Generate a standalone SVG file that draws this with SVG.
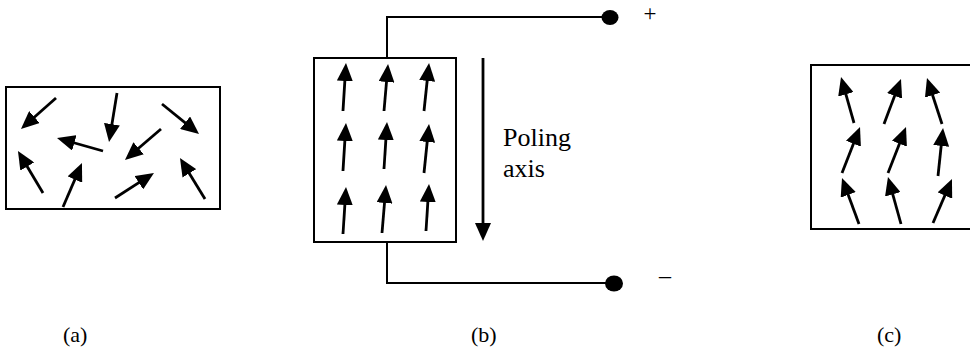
<svg xmlns="http://www.w3.org/2000/svg" width="970" height="355" viewBox="0 0 970 355">
<style>
.box{fill:#fff;stroke:#000;stroke-width:2}
.ar{stroke:#000;stroke-width:2.8;fill:none;marker-end:url(#ah)}
.wire{stroke:#000;stroke-width:2;fill:none}
.serif{font-family:'Liberation Serif','DejaVu Serif',serif;fill:#000}
</style>
<defs>
<marker id="ah" viewBox="0 0 18 16" refX="7" refY="8" markerWidth="18" markerHeight="16" markerUnits="userSpaceOnUse" orient="auto">
<path d="M0,0 L18,8 L0,16 z" fill="#000"/>
</marker>
</defs>
<rect width="970" height="355" fill="#fff"/>

<g id="panel-a">
<rect class="box" x="6" y="87" width="214" height="122"/>
<line class="ar" x1="56" y1="98" x2="29.2" y2="121.7"/>
<line class="ar" x1="117" y1="93" x2="110.8" y2="131.1"/>
<line class="ar" x1="162" y1="104" x2="190.5" y2="127.1"/>
<line class="ar" x1="103" y1="151" x2="67.6" y2="141"/>
<line class="ar" x1="161" y1="129" x2="133.3" y2="152.8"/>
<line class="ar" x1="43" y1="193" x2="23.6" y2="160.5"/>
<line class="ar" x1="63" y1="207" x2="77.6" y2="173.1"/>
<line class="ar" x1="115" y1="198" x2="144.7" y2="178.9"/>
<line class="ar" x1="205" y1="199" x2="185.7" y2="167.4"/>
</g>

<g id="panel-b">
<rect class="box" x="314" y="58" width="142" height="184"/>
<line class="ar" x1="343" y1="111" x2="345.3" y2="74"/>
<line class="ar" x1="343" y1="171" x2="345.3" y2="134"/>
<line class="ar" x1="343" y1="234" x2="345.3" y2="198"/>
<line class="ar" x1="384" y1="111" x2="387.1" y2="75"/>
<line class="ar" x1="384" y1="169" x2="386.3" y2="133"/>
<line class="ar" x1="382" y1="233" x2="385.1" y2="196"/>
<line class="ar" x1="424" y1="111" x2="427.9" y2="74"/>
<line class="ar" x1="424" y1="173" x2="427.9" y2="135"/>
<line class="ar" x1="426" y1="231" x2="428.3" y2="195"/>
</g>

<g id="terminal-plus">
<ellipse cx="610" cy="17.5" rx="8.5" ry="7.5" fill="#000"/>
<text class="serif" x="650" y="21" text-anchor="middle" font-size="23">+</text>
</g>
<g id="terminal-minus">
<ellipse cx="614" cy="283.5" rx="9" ry="8" fill="#000"/>
<text class="serif" x="665" y="283" text-anchor="middle" font-size="24">–</text>
</g>

<g id="connectors">
<polyline class="wire" points="387,58 387,17 610,17"/>
<polyline class="wire" points="387,242 387,283 614,283"/>
<line class="ar" x1="483" y1="58" x2="483" y2="230"/>
</g>

<g id="poling-label" class="serif" font-size="26">
<text x="503" y="146">Poling</text>
<text x="503" y="177">axis</text>
</g>

<g id="panel-c">
<rect class="box" x="811" y="65" width="200" height="164"/>
<line class="ar" x1="854" y1="123" x2="844" y2="87.6"/>
<line class="ar" x1="884" y1="124" x2="897.1" y2="89.3"/>
<line class="ar" x1="942" y1="124" x2="930.4" y2="88.5"/>
<line class="ar" x1="842" y1="173" x2="856" y2="137.2"/>
<line class="ar" x1="888" y1="173" x2="902" y2="137.2"/>
<line class="ar" x1="938" y1="176" x2="941.9" y2="139"/>
<line class="ar" x1="859" y1="224" x2="845.8" y2="188.3"/>
<line class="ar" x1="901" y1="224" x2="890.9" y2="187.6"/>
<line class="ar" x1="933" y1="223" x2="947.6" y2="189.1"/>
</g>

<g id="captions" class="serif" font-size="22">
<text x="63" y="342">(a)</text>
<text x="471" y="342">(b)</text>
<text x="877" y="342">(c)</text>
</g>
</svg>
